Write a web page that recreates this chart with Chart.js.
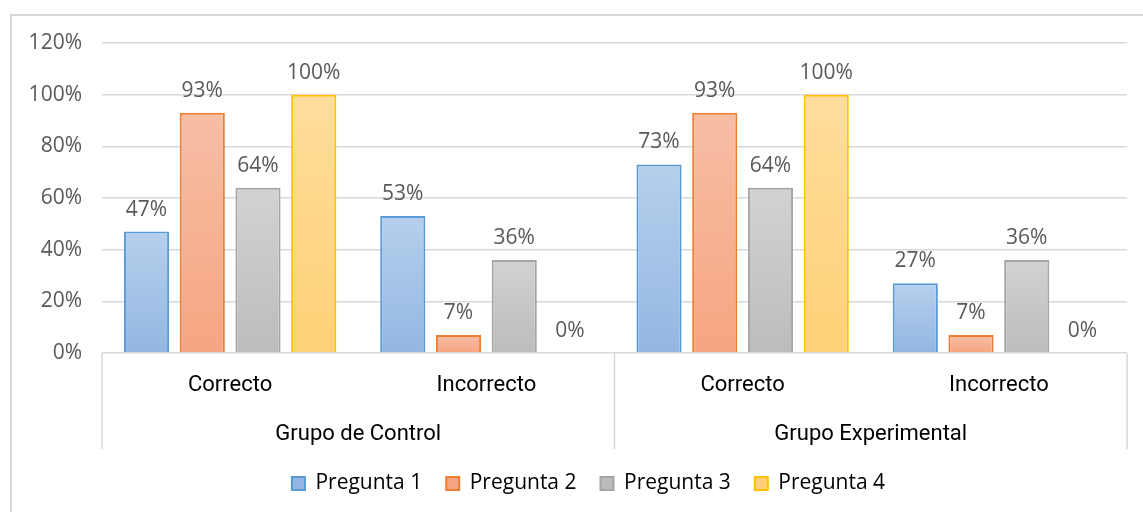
<!DOCTYPE html>
<html>
<head>
<meta charset="utf-8">
<script src="https://cdn.jsdelivr.net/npm/chart.js@4.4.1/dist/chart.umd.min.js"></script>
<style>
  html, body { margin: 0; padding: 0; background: #fff; }
  #wrap { position: relative; width: 1143px; height: 512px; overflow: hidden; }
  #frame { position: absolute; left: 10px; top: 14px; width: 1200px; height: 600px;
           border-left: 2px solid #d9d9d9; border-top: 2px solid #d9d9d9; pointer-events: none; }
</style>
</head>
<body>
<div id="wrap">
  <canvas id="chart" width="1143" height="512"></canvas>
  <div id="frame"></div>
</div>
<script>
  // categories (inner level) and groups (outer level)
  const categories = ['Correcto', 'Incorrecto', 'Correcto', 'Incorrecto'];
  const groups = ['Grupo de Control', 'Grupo Experimental'];

  const seriesNames = ['Pregunta 1', 'Pregunta 2', 'Pregunta 3', 'Pregunta 4'];
  const pregunta1 = [47, 53, 73, 27];
  const pregunta2 = [93, 7, 93, 7];
  const pregunta3 = [64, 36, 64, 36];
  const pregunta4 = [100, 0, 100, 0];

  const yTicks = [0, 20, 40, 60, 80, 100, 120];

  const STYLES = [
    { top: '#b6cfec', bottom: '#93b7e2', border: '#5b9bd5' },
    { top: '#f7bea6', bottom: '#f6a580', border: '#ed7d31' },
    { top: '#d2d2d2', bottom: '#bcbcbc', border: '#a5a5a5' },
    { top: '#ffdd9c', bottom: '#ffd177', border: '#ffc000' },
  ];

  const GRID = '#d9d9d9';
  const TEXT = '#595959';

  function barFill(top, bottom) {
    return (ctx) => {
      const chart = ctx.chart;
      if (!chart.chartArea || ctx.type !== 'data') return bottom;
      const y = chart.scales.y;
      const y0 = y.getPixelForValue(0);
      const y1 = y.getPixelForValue(ctx.raw);
      if (Math.abs(y0 - y1) < 1) return bottom;
      const g = chart.ctx.createLinearGradient(0, y1, 0, y0);
      g.addColorStop(0, top);
      g.addColorStop(1, bottom);
      return g;
    };
  }

  // value labels above bars
  const valueLabels = {
    id: 'valueLabels',
    afterDatasetsDraw(chart) {
      const ctx = chart.ctx;
      ctx.save();
      ctx.font = '21px "Open Sans"';
      ctx.fillStyle = TEXT;
      ctx.textAlign = 'center';
      ctx.textBaseline = 'alphabetic';
      chart.data.datasets.forEach((ds, i) => {
        const meta = chart.getDatasetMeta(i);
        meta.data.forEach((bar, j) => {
          ctx.fillText(ds.data[j] + '%', bar.x, bar.y - 16);
        });
      });
      ctx.restore();
    }
  };

  // box lines of the two-level category axis
  const axisBox = {
    id: 'axisBox',
    afterDraw(chart) {
      const ctx = chart.ctx;
      const area = chart.chartArea;
      const x2 = chart.scales.x2;
      const mid = (area.left + area.right) / 2;
      ctx.save();
      ctx.strokeStyle = GRID;
      ctx.lineWidth = 1.5;
      ctx.beginPath();
      [area.left, mid, area.right].forEach(x => {
        ctx.moveTo(x, area.bottom);
        ctx.lineTo(x, x2.bottom);
      });
      ctx.stroke();
      ctx.restore();
    }
  };

  // legend sits a little right of the chart centre in the original
  const legendShift = {
    id: 'legendShift',
    afterLayout(chart) {
      const lg = chart.legend;
      lg.left += 25;
      lg.right += 25;
    }
  };

  const seriesData = [pregunta1, pregunta2, pregunta3, pregunta4];

  new Chart(document.getElementById('chart'), {
    type: 'bar',
    data: {
      labels: categories,
      datasets: seriesData.map((d, i) => ({
        label: seriesNames[i],
        data: d,
        backgroundColor: barFill(STYLES[i].top, STYLES[i].bottom),
        borderColor: STYLES[i].border,
        borderWidth: 2,
        borderSkipped: 'bottom',
        categoryPercentage: 0.87,
        barPercentage: 0.81,
      })),
    },
    options: {
      responsive: false,
      animation: false,
      layout: { padding: { top: 43, right: 16, left: 0, bottom: 8 } },
      plugins: {
        tooltip: { enabled: false },
        legend: {
          position: 'bottom',
          labels: {
            boxWidth: 13,
            boxHeight: 13,
            padding: 24,
            color: TEXT,
            font: { family: 'Open Sans', size: 21 },
            generateLabels: () => seriesNames.map((n, i) => ({
              text: n,
              fillStyle: STYLES[i].bottom,
              strokeStyle: STYLES[i].border,
              lineWidth: 2,
              datasetIndex: i,
            })),
          },
        },
      },
      scales: {
        y: {
          min: 0,
          max: 120,
          afterBuildTicks: (s) => { s.ticks = yTicks.map(v => ({ value: v })); },
          afterFit: (s) => { s.width = 102; },
          ticks: {
            padding: 20,
            color: TEXT,
            font: { family: 'Open Sans', size: 21 },
            callback: (v) => v + '%',
          },
          grid: { color: GRID, lineWidth: 1.5, drawTicks: false },
          border: { display: false },
        },
        x: {
          afterFit: (s) => { s.height = 48; },
          grid: { display: false },
          border: { display: false },
          ticks: {
            padding: 11,
            color: '#000',
            font: { family: 'Roboto', size: 22 },
            maxRotation: 0,
          },
        },
        x2: {
          type: 'category',
          position: 'bottom',
          labels: groups,
          offset: true,
          afterFit: (s) => { s.height = 48; },
          grid: { display: false },
          border: { display: false },
          ticks: {
            padding: 12,
            color: '#000',
            font: { family: 'Roboto', size: 22 },
            maxRotation: 0,
          },
        },
      },
    },
    plugins: [valueLabels, axisBox, legendShift],
  });
</script>
</body>
</html>
